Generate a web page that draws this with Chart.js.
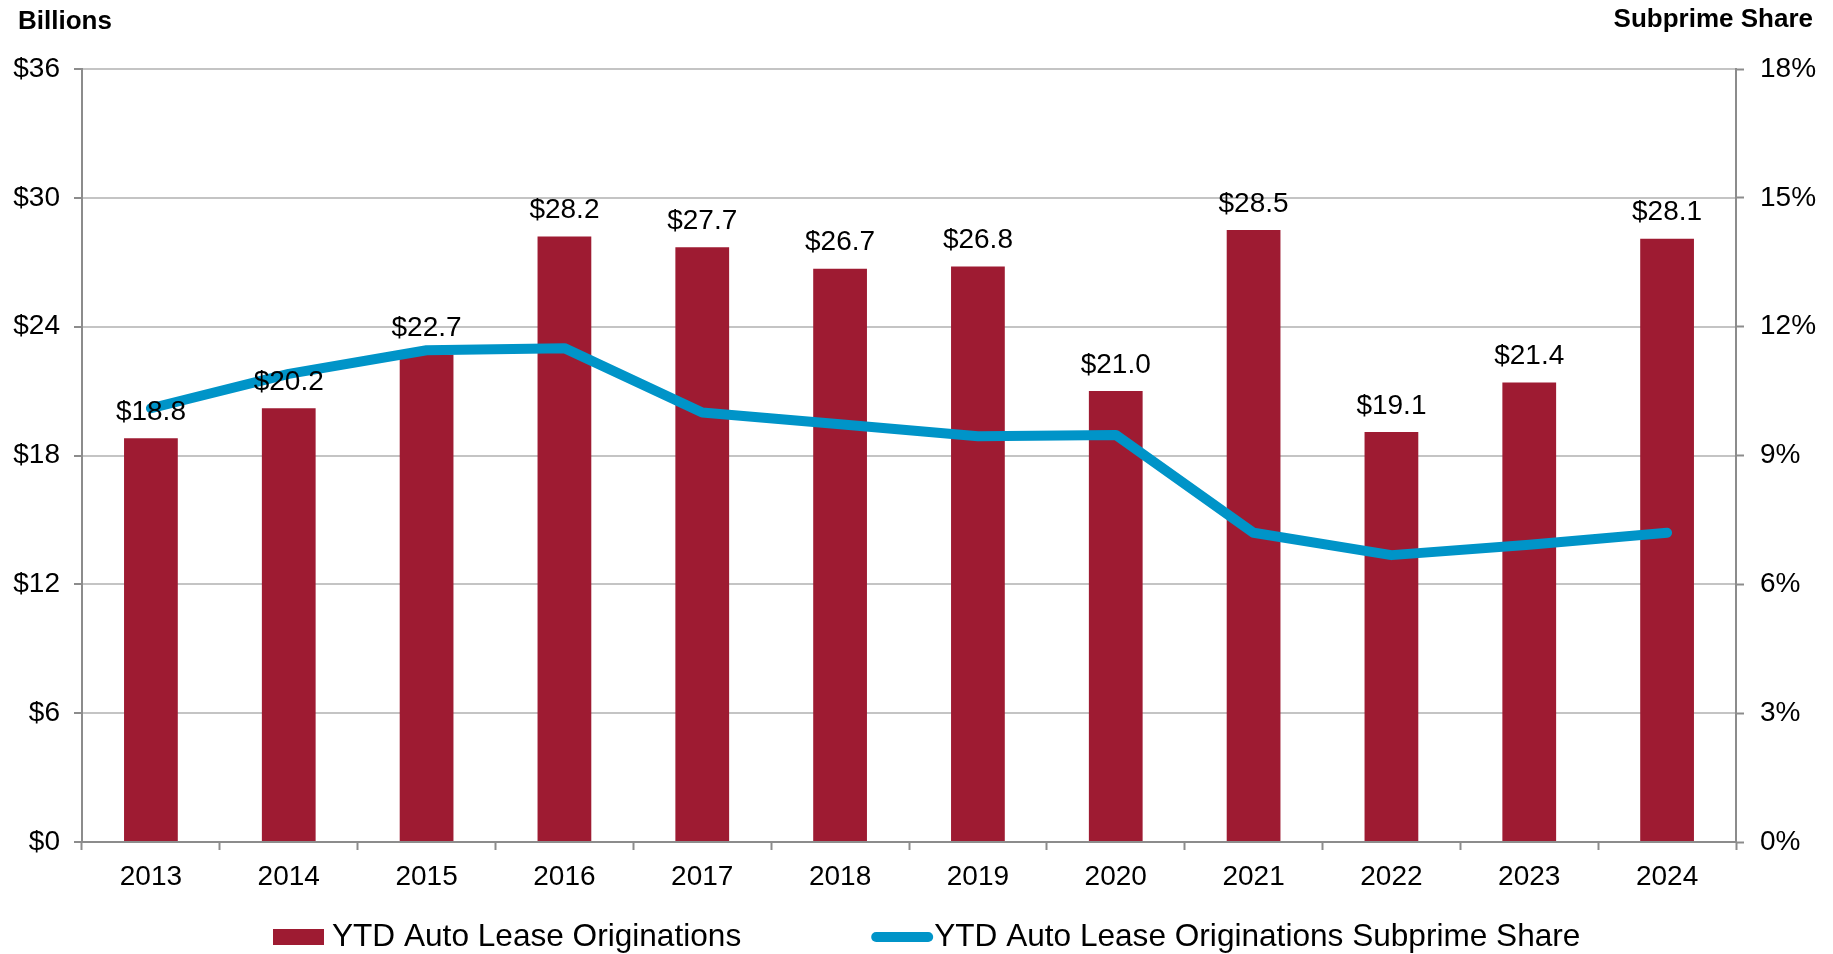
<!DOCTYPE html>
<html>
<head>
<meta charset="utf-8">
<script src="https://cdn.jsdelivr.net/npm/chart.js@4.4.1/dist/chart.umd.min.js"></script>
<style>
  html, body { margin:0; padding:0; background:#fff; }
  canvas { display:block; }
</style>
</head>
<body>
<canvas id="leaseChart" width="1833" height="954"></canvas>
<script>
var years = ['2013','2014','2015','2016','2017','2018','2019','2020','2021','2022','2023','2024'];
var originations = [18.8, 20.2, 22.7, 28.2, 27.7, 26.7, 26.8, 21.0, 28.5, 19.1, 21.4, 28.1];
var subprimeShare = [10.1, 10.9, 11.45, 11.5, 10.0, 9.73, 9.45, 9.48, 7.2, 6.68, 6.92, 7.2];
var barLabel = 'YTD Auto Lease Originations';
var lineLabel = 'YTD Auto Lease Originations Subprime Share';
var leftTitle = 'Billions';
var rightTitle = 'Subprime Share';

var barColor = '#9e1b32';
var lineColor = '#0094c8';
var axisColor = '#8c8c8c';
var gridColor = '#c4c4c4';
var fontFamily = '"Liberation Sans", Arial, sans-serif';

//Labels, titles and legend
var extras = {
  id:'extras',
  afterDatasetsDraw: function(chart){
    var ctx = chart.ctx;
    var meta = chart.getDatasetMeta(1);
    ctx.save();
    ctx.font = '28px ' + fontFamily;
    ctx.fillStyle = '#000';
    ctx.textAlign = 'center';
    ctx.textBaseline = 'bottom';
    for (var i=0;i<meta.data.length;i++){
      var b = meta.data[i];
      ctx.fillText('$' + originations[i].toFixed(1), b.x, b.y - 12);
    }
    ctx.restore();
  },
  afterDraw: function(chart){
    var ctx = chart.ctx;
    ctx.save();
    ctx.fillStyle = '#000';
    ctx.textBaseline = 'middle';
    ctx.font = 'bold 26px ' + fontFamily;
    ctx.textAlign = 'left';
    ctx.fillText(leftTitle, 18, 22);
    ctx.textAlign = 'right';
    ctx.fillText(rightTitle, 1813, 20);

    // legend
    var y = 937;
    ctx.font = '31.6px ' + fontFamily;
    ctx.textAlign = 'left';
    var x = 273;
    ctx.fillStyle = barColor;
    ctx.fillRect(x, y - 8, 51, 16);
    ctx.fillStyle = '#000';
    var tx = x + 59;
    ctx.fillText(barLabel, tx, y);
    var lx = tx + ctx.measureText(barLabel).width + 135;
    ctx.strokeStyle = lineColor;
    ctx.lineWidth = 10;
    ctx.lineCap = 'round';
    ctx.beginPath();
    ctx.moveTo(lx, y);
    ctx.lineTo(lx + 52, y);
    ctx.stroke();
    ctx.fillText(lineLabel, lx + 58, y);
    ctx.restore();
  }
};

new Chart(document.getElementById('leaseChart').getContext('2d'), {
  type:'bar',
  data:{
    labels: years,
    datasets:[
      { type:'line', label: lineLabel, data: subprimeShare, yAxisID:'y2', order:0,
        borderColor: lineColor, backgroundColor: lineColor, borderWidth:10,
        borderCapStyle:'round', borderJoinStyle:'round', pointRadius:0, tension:0, fill:false },
      { type:'bar', label: barLabel, data: originations, yAxisID:'y', order:1,
        backgroundColor: barColor, barPercentage:0.39, categoryPercentage:1 }
    ]
  },
  options:{
    responsive:false,
    animation:false,
    layout:{ padding:{ top:69, bottom:52, left:0, right:0 } },
    plugins:{ legend:{ display:false }, tooltip:{ enabled:false } },
    scales:{
      x:{
        offset:true,
        grid:{ display:true, drawOnChartArea:false, drawTicks:true, tickLength:8, tickColor:axisColor, tickWidth:2, offset:true },
        border:{ color:axisColor, width:2 },
        ticks:{ color:'#000', font:{ family:fontFamily, size:28 }, padding:10, maxRotation:0 },
        afterFit:function(s){ s.height = 60; }
      },
      y:{
        position:'left', min:0, max:36,
        grid:{ color:gridColor, lineWidth:2, tickLength:8, tickColor:axisColor, tickWidth:2 },
        border:{ color:axisColor, width:2 },
        ticks:{ stepSize:6, color:'#000', font:{ family:fontFamily, size:28 }, padding:14,
          callback:function(v){ return '$' + v; } },
        afterFit:function(s){ s.width = 82; }
      },
      y2:{
        position:'right', min:0, max:18,
        grid:{ drawOnChartArea:false, tickLength:8, tickColor:axisColor, tickWidth:2 },
        border:{ color:axisColor, width:2 },
        ticks:{ stepSize:3, color:'#000', font:{ family:fontFamily, size:28 }, padding:16,
          callback:function(v){ return v + '%'; } },
        afterFit:function(s){ s.width = 97; }
      }
    }
  },
  plugins:[extras]
});
</script>
</body>
</html>
